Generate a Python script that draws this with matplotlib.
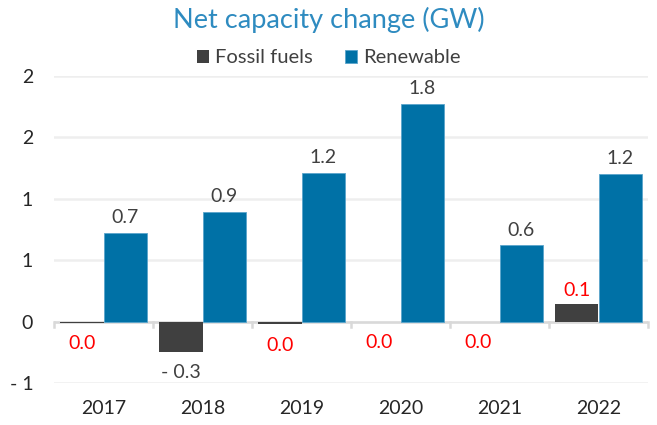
import matplotlib
matplotlib.use("Agg")
import matplotlib.pyplot as plt
import numpy as np

years = ["2017", "2018", "2019", "2020", "2021", "2022"]
fossil = [-0.01, -0.245, -0.02, 0.0, 0.0, 0.14]
renewable = [0.725, 0.89, 1.21, 1.77, 0.62, 1.2]
fossil_labels = ["0.0", "- 0.3", "0.0", "0.0", "0.0", "0.1"]
renewable_labels = ["0.7", "0.9", "1.2", "1.8", "0.6", "1.2"]
yticks = [-0.5, 0, 0.5, 1.0, 1.5, 2.0]
ytick_labels = ["- 1", "0", "1", "1", "2", "2"]

plt.rcParams['font.family'] = ['Lato', 'DejaVu Sans']

fig = plt.figure(figsize=(6.57, 4.25), dpi=100)
ax = fig.add_axes([54/657, 42/425, 594/657, 307/425])

x = np.arange(len(years))
w = 0.435
c_fossil = "#404040"
c_ren = "#0071A6"
ax.bar(x - w/2, fossil, w, color=c_fossil, label="Fossil fuels", zorder=3)
ax.bar(x + w/2, renewable, w, color=c_ren, label="Renewable", zorder=3,
       edgecolor="#5AA5CC", linewidth=0.6)

fossil_colors = ["#FF0000", "#404040", "#FF0000", "#FF0000", "#FF0000", "#FF0000"]
for i, (v, lab) in enumerate(zip(fossil, fossil_labels)):
    if v > 0:
        ax.annotate(lab, (x[i] - w/2, v), xytext=(0, 4), textcoords="offset points",
                    ha="center", va="bottom", fontsize=14, color=fossil_colors[i])
    else:
        ax.annotate(lab, (x[i] - w/2, v), xytext=(0, -9), textcoords="offset points",
                    ha="center", va="top", fontsize=14, color=fossil_colors[i])
for i, (v, lab) in enumerate(zip(renewable, renewable_labels)):
    ax.annotate(lab, (x[i] + w/2, v), xytext=(0, 5), textcoords="offset points",
                ha="center", va="bottom", fontsize=14, color="#404040")

ax.set_xlim(-0.5, len(years) - 0.5)
ax.set_ylim(-0.5, 2.0)
ax.set_yticks(yticks)
ax.set_yticklabels(ytick_labels)
ax.yaxis.grid(True, color="#EEEEEE", linewidth=1.8, zorder=0)
ax.set_axisbelow(True)
for s in ["top", "right", "left", "bottom"]:
    ax.spines[s].set_visible(False)
ax.axhline(0, color="#D9D9D9", linewidth=1.8, zorder=2)
for b in np.arange(-0.5, len(years), 1.0):
    ax.plot([b, b], [0, -0.04], color="#D9D9D9", linewidth=1.8, zorder=2, clip_on=False)
ax.set_xticks(x)
ax.set_xticklabels(years)
ax.tick_params(axis="x", length=0, pad=12, labelsize=14, colors="#262626")
ax.tick_params(axis="y", length=0, pad=15, labelsize=14, colors="#262626")

fig.text(0.5, 0.953, "Net capacity change (GW)", ha="center", va="center",
         fontsize=19.5, color="#2E8BC0")
leg = fig.legend(loc="center", bbox_to_anchor=(0.5, 0.864), ncol=2, frameon=False,
                 fontsize=14.5, handlelength=0.6, handleheight=0.6, handletextpad=0.3,
                 columnspacing=1.6, labelcolor="#404040")

fig.savefig("out.png", dpi=100)
